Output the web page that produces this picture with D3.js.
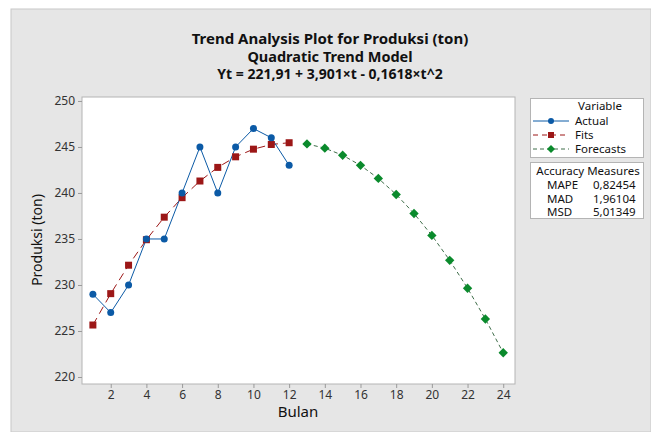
<!DOCTYPE html>
<html>
<head>
<meta charset="utf-8">
<script src="https://cdn.jsdelivr.net/npm/d3@7"></script>
<style>
body {margin: 0; background: #fff;}
text {font-family: 'Noto Sans', 'Open Sans', sans-serif;}
</style>
</head>
<body>
<script>
// data
var bulan = [1,2,3,4,5,6,7,8,9,10,11,12];
var actual = [229,227,230,235,235,240,245,240,245,247,246,243];
var fits = [225.65,229.06,232.15,234.92,237.37,239.49,241.30,242.78,243.93,244.76,245.27,245.46];
var bulanF = [13,14,15,16,17,18,19,20,21,22,23,24];
var forecasts = [245.33,244.87,244.10,243.00,241.58,239.84,237.77,235.39,232.68,229.65,226.30,222.63];
var xTicks = [2,4,6,8,10,12,14,16,18,20,22,24];
var yTicks = [220,225,230,235,240,245,250];
var accLabels = ['MAPE','MAD','MSD'];
var accValues = ['0,82454','1,96104','5,01349'];

var W = 651, H = 432;
var svg = d3.select('body').append('svg').attr('width', W).attr('height', H);

svg.append('rect').attr('x', 11).attr('y', 9).attr('width', W - 11).attr('height', H - 9)
  .attr('fill', '#e6e6e6').attr('stroke', '#c8c8c8');

var x = d3.scaleLinear().domain([0.39, 24.66]).range([82, 515]);
var y = d3.scaleLinear().domain([219.24, 250.43]).range([384, 97]);

// plot area
svg.append('rect').attr('x', 82).attr('y', 97).attr('width', 433).attr('height', 287)
  .attr('fill', '#fff').attr('stroke', '#b4b4b4');

var fmt = function(d){ return String(d); };
var gx = svg.append('g').attr('transform', 'translate(0,384)')
  .call(d3.axisBottom(x).tickValues(xTicks).tickSize(4).tickPadding(2).tickFormat(fmt));
var gy = svg.append('g').attr('transform', 'translate(82,0)')
  .call(d3.axisLeft(y).tickValues(yTicks).tickSize(4).tickPadding(3).tickFormat(fmt));
[gx, gy].forEach(function(g){
  g.select('.domain').remove();
  g.selectAll('line').attr('stroke', '#9a9a9a');
  g.selectAll('text').attr('fill', '#333').style('font-size', '12px')
    .style('font-family', "'Noto Sans', sans-serif");
});

// titles
svg.append('text').attr('x', 330).attr('y', 43.5).attr('text-anchor', 'middle')
  .style('font-size', '15px').style('font-weight', 'bold').attr('fill', '#111')
  .text('Trend Analysis Plot for Produksi (ton)');
svg.append('text').attr('x', 330).attr('y', 62).attr('text-anchor', 'middle')
  .style('font-size', '14.5px').style('font-weight', 'bold').attr('fill', '#111')
  .text('Quadratic Trend Model');
svg.append('text').attr('x', 330).attr('y', 79).attr('text-anchor', 'middle')
  .style('font-size', '14px').style('font-weight', 'bold').attr('fill', '#111')
  .text('Yt = 221,91 + 3,901×t - 0,1618×t^2');

svg.append('text').attr('x', 298).attr('y', 417).attr('text-anchor', 'middle')
  .style('font-size', '15px').attr('fill', '#111').text('Bulan');
svg.append('text').attr('transform', 'translate(42,240)rotate(-90)').attr('text-anchor', 'middle')
  .style('font-size', '14px').attr('fill', '#111').text('Produksi (ton)');

var blue = '#0b5aa6', red = '#9c1717', green = '#0a8a2c';
var line = d3.line().x(function(d){ return x(d[0]); }).y(function(d){ return y(d[1]); });

var actPts = bulan.map(function(t, i){ return [t, actual[i]]; });
var fitPts = bulan.map(function(t, i){ return [t, fits[i]]; });
var fcPts = bulanF.map(function(t, i){ return [t, forecasts[i]]; });

svg.append('path').datum(fcPts).attr('d', line).attr('fill', 'none')
  .attr('stroke', '#3f6e4a').attr('stroke-width', 1).attr('stroke-dasharray', '4,3');
svg.append('path').datum(fitPts).attr('d', line).attr('fill', 'none')
  .attr('stroke', red).attr('stroke-width', 1).attr('stroke-dasharray', '8,5');
svg.append('path').datum(actPts).attr('d', line).attr('fill', 'none')
  .attr('stroke', blue).attr('stroke-width', 1);

svg.append('g').selectAll('rect').data(fitPts).enter().append('rect')
  .attr('x', function(d){ return x(d[0]) - 3.5; }).attr('y', function(d){ return y(d[1]) - 3.5; })
  .attr('width', 7).attr('height', 7).attr('fill', red);
svg.append('g').selectAll('circle').data(actPts).enter().append('circle')
  .attr('cx', function(d){ return x(d[0]); }).attr('cy', function(d){ return y(d[1]); })
  .attr('r', 3.5).attr('fill', blue);
var diamond = d3.symbol().type(d3.symbolDiamond2).size(56);
svg.append('g').selectAll('path').data(fcPts).enter().append('path')
  .attr('transform', function(d){ return 'translate(' + x(d[0]) + ',' + y(d[1]) + ')'; })
  .attr('d', diamond).attr('fill', green);

// legend
svg.append('rect').attr('x', 530.5).attr('y', 98.5).attr('width', 113).attr('height', 59)
  .attr('fill', '#fff').attr('stroke', '#b4b4b4');
svg.append('text').attr('x', 600).attr('y', 110).attr('text-anchor', 'middle')
  .style('font-size', '11.5px').attr('fill', '#111').text('Variable');
var legItems = [
  {name: 'Actual', color: blue, dash: null, mark: 'circle'},
  {name: 'Fits', color: red, dash: '5,4', mark: 'square'},
  {name: 'Forecasts', color: green, dash: '4,3', mark: 'diamond'}
];
legItems.forEach(function(it, i){
  var ly = 121 + i * 14;
  svg.append('line').attr('x1', 533).attr('x2', 569).attr('y1', ly).attr('y2', ly)
    .attr('stroke', it.mark === 'diamond' ? '#3f6e4a' : it.color).attr('stroke-width', 1)
    .attr('stroke-dasharray', it.dash);
  if (it.mark === 'circle') svg.append('circle').attr('cx', 551).attr('cy', ly).attr('r', 3).attr('fill', it.color);
  if (it.mark === 'square') svg.append('rect').attr('x', 548).attr('y', ly - 3).attr('width', 6).attr('height', 6).attr('fill', it.color);
  if (it.mark === 'diamond') svg.append('path').attr('transform', 'translate(551,' + ly + ')')
    .attr('d', d3.symbol().type(d3.symbolDiamond2).size(40)).attr('fill', it.color);
  svg.append('text').attr('x', 575).attr('y', ly + 4).style('font-size', '11.5px').attr('fill', '#111').text(it.name);
});

svg.append('rect').attr('x', 530.5).attr('y', 162.5).attr('width', 113).attr('height', 56)
  .attr('fill', '#fff').attr('stroke', '#b4b4b4');
svg.append('text').attr('x', 588).attr('y', 175).attr('text-anchor', 'middle')
  .style('font-size', '11.5px').attr('fill', '#111').text('Accuracy Measures');
accLabels.forEach(function(l, i){
  var ly = 189 + i * 13.7;
  svg.append('text').attr('x', 547).attr('y', ly).style('font-size', '11.5px').attr('fill', '#111').text(l);
  svg.append('text').attr('x', 593).attr('y', ly).style('font-size', '11.5px').attr('fill', '#111').text(accValues[i]);
});
</script>
</body>
</html>
